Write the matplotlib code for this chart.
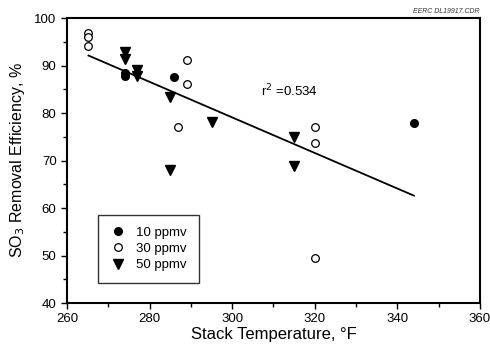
import matplotlib
matplotlib.use("Agg")
import matplotlib.pyplot as plt
from matplotlib.ticker import MultipleLocator

plt.rcParams['font.family'] = ['Liberation Sans', 'DejaVu Sans']

# Data
t10 = [274, 274, 286, 344]
e10 = [88.5, 87.8, 87.5, 77.8]
t30 = [265, 265, 265, 289, 289, 287, 320, 320, 320]
e30 = [96.8, 96.1, 94.1, 91.2, 86.2, 77.1, 77.0, 73.6, 49.5]
t50 = [274, 274, 277, 277, 285, 285, 295, 315, 315]
e50 = [92.9, 91.4, 89.0, 87.8, 83.4, 68.1, 78.2, 75.0, 68.8]
fit_x = [265.2, 344.0]
fit_y = [92.1, 62.6]
r2_label = "r$^2$ =0.534"
note = "EERC DL19917.CDR"

fig = plt.figure(figsize=(4.9, 3.49), dpi=100)
ax = fig.add_axes([0.1367, 0.1318, 0.8429, 0.8166])

ax.plot(fit_x, fit_y, color='black', lw=1.3, zorder=2)
ax.plot(t10, e10, 'o', ms=5.5, mfc='black', mec='black', ls='none', label='10 ppmv', zorder=3)
ax.plot(t30, e30, 'o', ms=5.5, mfc='white', mec='black', mew=0.9, ls='none', label='30 ppmv', zorder=3)
ax.plot(t50, e50, 'v', ms=6.5, mfc='black', mec='black', ls='none', label='50 ppmv', zorder=3)

ax.set_xlim(260, 360)
ax.set_ylim(40, 100)
ax.xaxis.set_major_locator(MultipleLocator(20))
ax.xaxis.set_minor_locator(MultipleLocator(10))
ax.yaxis.set_major_locator(MultipleLocator(10))
ax.yaxis.set_minor_locator(MultipleLocator(5))
ax.tick_params(which='both', direction='out', top=False, right=False, labelsize=9.5, width=1.0)
ax.tick_params(which='major', length=4)
ax.tick_params(which='minor', length=3)
for s in ax.spines.values():
    s.set_linewidth(1.5)

ax.set_xlabel("Stack Temperature, °F", fontsize=12, labelpad=1)
ax.set_ylabel("SO$_3$ Removal Efficiency, %", fontsize=11.5, labelpad=5)

ax.text(307, 83.6, r2_label, fontsize=9.5, va='baseline')
fig.text(0.978, 0.958, note, fontsize=5, style='italic', ha='right', va='bottom', color='#333333')

leg = ax.legend(loc='lower left', bbox_to_anchor=(0.075, 0.07), borderaxespad=0, fontsize=9.5,
                frameon=True, fancybox=False, edgecolor='black', handletextpad=0.8, borderpad=0.9,
                handlelength=1.2, labelspacing=0.3)
leg.get_frame().set_linewidth(1.0)

fig.savefig("out.png", dpi=100)
